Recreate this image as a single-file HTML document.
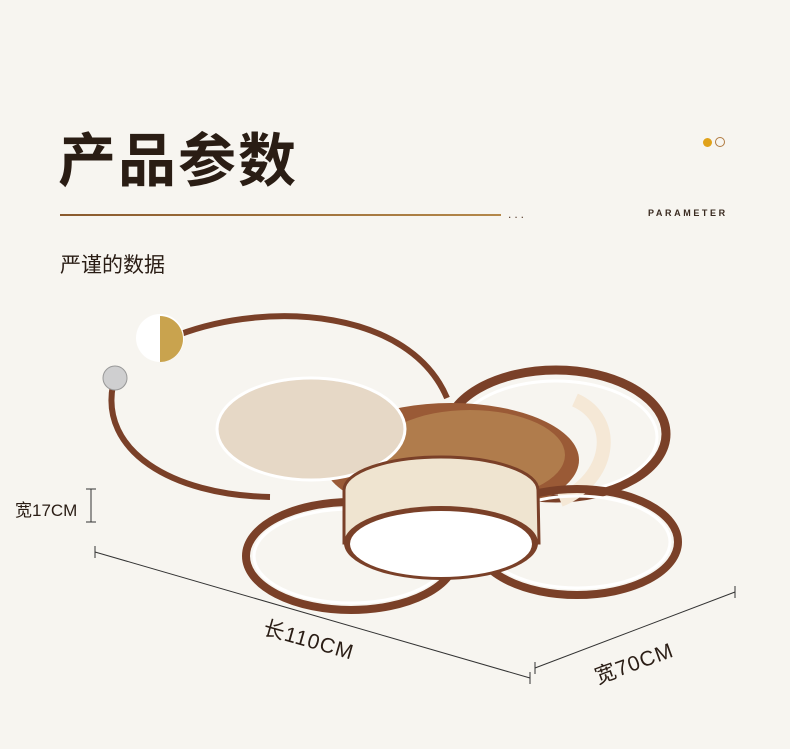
<!DOCTYPE html>
<html><head><meta charset="utf-8"><style>
html,body{margin:0;padding:0}
body{width:790px;height:749px;background:#f7f5f0;position:relative;overflow:hidden;font-family:"Liberation Sans","Noto Sans CJK SC",sans-serif;color:#2a1d15}
.t{position:absolute}
</style></head><body>
<div class="t" style="left:58px;top:127px;font-size:58px;font-weight:bold;letter-spacing:2px;line-height:70px;color:#2a1d14">产品参数</div>
<div class="t" style="left:60px;top:214px;width:441px;height:2px;background:linear-gradient(90deg,#8a5a2e,#b4884a)"></div>
<div class="t" style="left:508px;top:207px;font-size:12px;letter-spacing:3px;color:#5a4030">...</div>
<div class="t" style="left:648px;top:208px;font-size:9px;font-weight:bold;letter-spacing:2.6px;color:#3a2a20">PARAMETER</div>
<div class="t" style="left:703px;top:138px;width:9px;height:9px;border-radius:50%;background:#e0a21a"></div>
<div class="t" style="left:715px;top:137px;width:8px;height:8px;border-radius:50%;border:1.2px solid #b07a40"></div>
<div class="t" style="left:60px;top:249px;font-size:21px;color:#2a1d15">严谨的数据</div>
<div class="t" style="left:15px;top:496px;font-size:17px;color:#2a1d15">宽17CM</div>
<svg class="t" style="left:0;top:0" width="790" height="749">
<g stroke="#333" stroke-width="1" fill="none">
<line x1="86" y1="489" x2="96" y2="489"/><line x1="86" y1="522" x2="96" y2="522"/><line x1="91" y1="489" x2="91" y2="522"/>
<line x1="95" y1="552" x2="530" y2="678"/><line x1="95" y1="546" x2="95" y2="558"/><line x1="530" y1="672" x2="530" y2="684"/>
<line x1="535" y1="668" x2="735" y2="592"/><line x1="535" y1="662" x2="535" y2="674"/><line x1="735" y1="586" x2="735" y2="598"/>
</g>
<text x="0" y="0" font-size="21" letter-spacing="1" fill="#2a1d15" transform="translate(262,634) rotate(16)">长110CM</text>
<text x="0" y="0" font-size="21" letter-spacing="1" fill="#2a1d15" transform="translate(598,684) rotate(-20)">宽70CM</text>
<path d="M178 335 C270 300 410 310 447 398" stroke="#7a4028" stroke-width="6" fill="none"/>
<path d="M113 385 C100 450 170 495 270 497" stroke="#7a4028" stroke-width="6" fill="none"/>
<circle cx="160" cy="338" r="24" fill="#fff"/>
<path d="M160 316 A22 22 0 0 1 160 362 Z" fill="#c9a34e"/>
<circle cx="115" cy="378" r="12" fill="#cfcfd0" stroke="#999" stroke-width="1"/>
<ellipse cx="556" cy="434" rx="110" ry="64" fill="none" stroke="#7a4028" stroke-width="9"/>
<ellipse cx="556" cy="437" rx="101" ry="56" fill="none" stroke="#fff" stroke-width="3"/>
<ellipse cx="451" cy="460" rx="128" ry="57" fill="#9a5a36"/>
<ellipse cx="470" cy="455" rx="95" ry="45" fill="#b98a55" opacity="0.7"/>
<ellipse cx="311" cy="429" rx="94" ry="51" fill="#e6d8c6" stroke="#fff" stroke-width="3"/>
<path d="M575 400 C620 420 610 480 560 500" stroke="#f5e8d6" stroke-width="14" fill="none"/>
<ellipse cx="577" cy="542" rx="101" ry="53" fill="none" stroke="#7a4028" stroke-width="8"/>
<ellipse cx="577" cy="542" rx="93" ry="46" fill="none" stroke="#fff" stroke-width="3"/>
<ellipse cx="351" cy="556" rx="105" ry="54" fill="none" stroke="#7a4028" stroke-width="8"/>
<ellipse cx="351" cy="556" rx="97" ry="47" fill="none" stroke="#fff" stroke-width="3"/>
<path d="M344 490 A97 33 0 0 1 538 490 L539 543 L344 543 Z" fill="#efe4d0" stroke="#7a4028" stroke-width="3"/>
<ellipse cx="441" cy="543" rx="97" ry="37" fill="#7a4028"/>
<ellipse cx="441" cy="544" rx="91" ry="33" fill="#fff"/>
</svg>
</body></html>
